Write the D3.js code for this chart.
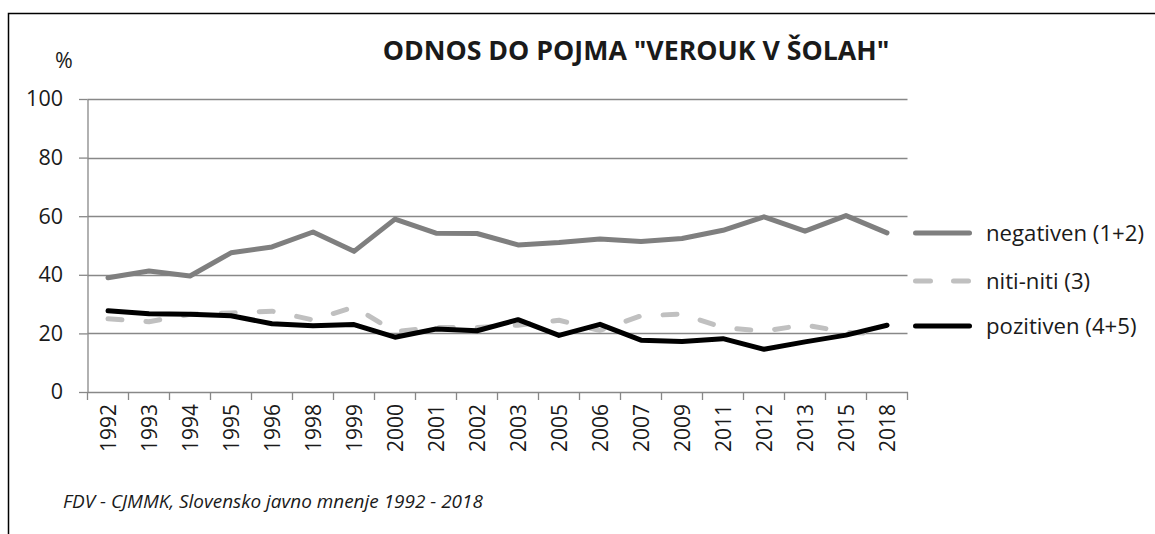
<!DOCTYPE html>
<html>
<head>
<meta charset="utf-8">
<script src="https://cdn.jsdelivr.net/npm/d3@7"></script>
<style>
  html, body { margin: 0; padding: 0; background: #fff; }
  svg { display: block; }
  text { font-family: "Open Sans", "Noto Sans", sans-serif; fill: #1a1a1a; }
</style>
</head>
<body>
<svg id="chart" width="1155" height="534"></svg>
<script>
const years = ["1992","1993","1994","1995","1996","1998","1999","2000","2001","2002","2003","2005","2006","2007","2009","2011","2012","2013","2015","2018"];
const negativen = [39, 41.3, 39.6, 47.5, 49.5, 54.6, 48, 59, 54.2, 54.1, 50.2, 51, 52.2, 51.4, 52.4, 55.2, 59.8, 54.9, 60.2, 54.3];
const nitiNiti  = [25, 24, 26.5, 27, 27.6, 24.6, 29, 20.6, 22, 22, 22.8, 24.5, 21, 26, 26.6, 22, 20.8, 22.9, 20.4, 19.8];
const pozitiven = [27.7, 26.7, 26.5, 26, 23.3, 22.6, 23, 18.7, 21.5, 20.9, 24.7, 19.3, 23.1, 17.7, 17.2, 18.2, 14.6, 17.1, 19.4, 22.8];
const seriesNames = ["negativen (1+2)", "niti-niti (3)", "pozitiven (4+5)"];
const yTicks = [0, 20, 40, 60, 80, 100];
const titleText = 'ODNOS DO POJMA "VEROUK V ŠOLAH"';
const yUnit = "%";
const sourceText = "FDV - CJMMK, Slovensko javno mnenje 1992 - 2018";

const FONT = "'Open Sans', 'Noto Sans', sans-serif";
const svg = d3.select("#chart");
const pLeft = 87.5, pRight = 907.5, pTop = 99, pBottom = 392;

// fit a text element's font size so that its width matches a target
function fitWidth(sel, target) {
  const node = sel.node();
  const fs = parseFloat(sel.attr("font-size"));
  const w = node.getComputedTextLength();
  if (w > 0) sel.attr("font-size", (fs * target / w).toFixed(2));
  return sel;
}

// frame
svg.append("rect").attr("x", 8.5).attr("y", 13.5).attr("width", 1160).attr("height", 540)
  .attr("fill", "none").attr("stroke", "#000").attr("stroke-width", 1.5);

const x = d3.scaleBand().domain(years).range([pLeft, pRight]);
const y = d3.scaleLinear().domain([0, 100]).range([pBottom, pTop]);

// gridlines
svg.append("g").selectAll("line").data(yTicks.filter(d => d > 0)).join("line")
  .attr("x1", pLeft).attr("x2", pRight)
  .attr("y1", d => Math.round(y(d)) + 0.5).attr("y2", d => Math.round(y(d)) + 0.5)
  .attr("stroke", "#888").attr("stroke-width", 1.3);

// y axis
const yAxis = svg.append("g").attr("transform", `translate(${pLeft},0)`)
  .call(d3.axisLeft(y).tickValues(yTicks).tickSize(8.5).tickPadding(16).tickSizeOuter(0));
yAxis.select(".domain").attr("stroke", "#888").attr("stroke-width", 1.3);
yAxis.selectAll(".tick line").attr("stroke", "#888").attr("stroke-width", 1.3);
yAxis.selectAll(".tick text").attr("font-size", 21.5).attr("fill", "#1a1a1a")
  .style("font-family", FONT);

// x axis
const xAxis = svg.append("g").attr("transform", `translate(0,${pBottom})`)
  .call(d3.axisBottom(x).tickSize(0).tickSizeOuter(0));
xAxis.select(".domain").attr("stroke", "#888").attr("stroke-width", 1.3);
// tick marks at band edges
const edges = years.map(d => x(d)).concat([x(years[years.length - 1]) + x.bandwidth()]);
svg.append("g").selectAll("line").data(edges).join("line")
  .attr("x1", d => d).attr("x2", d => d).attr("y1", pBottom).attr("y2", pBottom + 8)
  .attr("stroke", "#888").attr("stroke-width", 1.3);
xAxis.selectAll(".tick text")
  .attr("font-size", 21).attr("fill", "#1a1a1a")
  .style("font-family", FONT)
  .attr("transform", "rotate(-90)")
  .attr("text-anchor", "end")
  .attr("x", -12).attr("y", 0).attr("dy", "0.36em");

// lines
const cx = d => x(d) + x.bandwidth() / 2;
const line = d3.line().x((d, i) => cx(years[i])).y(d => y(d));
const styles = [
  { data: negativen, color: "#7f7f7f", dash: null },
  { data: nitiNiti, color: "#c0c0c0", dash: "14,24" },
  { data: pozitiven, color: "#000000", dash: null }
];
styles.forEach(s => {
  svg.append("path").datum(s.data).attr("d", line)
    .attr("fill", "none").attr("stroke", s.color).attr("stroke-width", 5)
    .attr("stroke-linejoin", "round").attr("stroke-linecap", "round")
    .attr("stroke-dasharray", s.dash);
});

// legend
const legendY = [233, 281, 326];
const lg = svg.append("g");
styles.forEach((s, i) => {
  lg.append("line").attr("x1", 915.5).attr("x2", 969.5).attr("y1", legendY[i]).attr("y2", legendY[i])
    .attr("stroke", s.color).attr("stroke-width", 5).attr("stroke-linecap", "round")
    .attr("stroke-dasharray", s.dash ? "15,23" : null);
  lg.append("text").attr("x", 986).attr("y", legendY[i]).attr("dy", "0.36em")
    .attr("font-size", 22.2).text(seriesNames[i]);
});

// title
const t = svg.append("text").attr("x", 636).attr("y", 60).attr("text-anchor", "middle")
  .attr("font-size", 26).attr("font-weight", "bold").text(titleText);
fitWidth(t, 507);
svg.append("text").attr("x", 64).attr("y", 68).attr("text-anchor", "middle")
  .attr("font-size", 21.5).text(yUnit);

// source
const src = svg.append("text").attr("x", 63).attr("y", 508).attr("font-size", 16).attr("font-style", "italic")
  .text(sourceText);
fitWidth(src, 420);
</script>
</body>
</html>
